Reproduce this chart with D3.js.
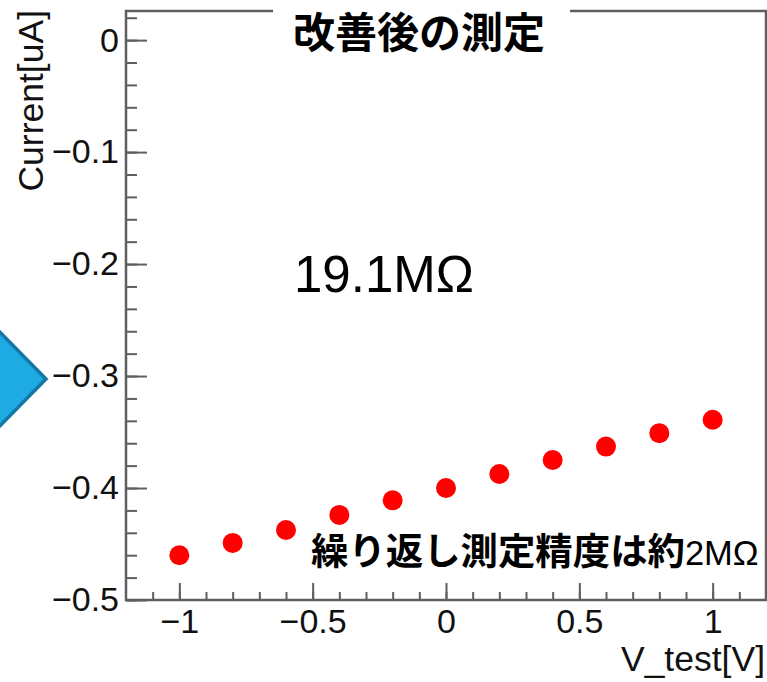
<!DOCTYPE html>
<html>
<head>
<meta charset="utf-8">
<script src="https://cdn.jsdelivr.net/npm/d3@7"></script>
<style>
  body { margin: 0; background: #fff; }
  svg { display: block; }
</style>
</head>
<body>
<div id="chart"></div>
<script>
// measurement after the fix: current vs test voltage
var vTest   = [-1, -0.8, -0.6, -0.4, -0.2, 0, 0.2, 0.4, 0.6, 0.8, 1];
var current = [-0.460, -0.449, -0.4375, -0.424, -0.411, -0.400, -0.3875, -0.375, -0.363, -0.351, -0.339];

var xTicks = [-1, -0.5, 0, 0.5, 1];
var yTicks = [0, -0.1, -0.2, -0.3, -0.4, -0.5];

var title   = "改善後の測定";
var resText = "19.1MΩ";
var noteCJK = "繰り返し測定精度は約";
var noteLat = "2MΩ";
var xTitle  = "V_test[V]";
var yTitle  = "Current[uA]";

var width = 767, height = 682;
// plot frame (window.top is read-only, so no "top" here)
var padL = 126, padR = 766, padT = 11, padB = 600;
var axisColor = "#5f5f5f";
var latin = "'Liberation Sans', Arial, sans-serif";
var cjk = "'Noto Sans CJK JP', sans-serif";

var svg = d3.select("div#chart")
    .append("svg")
    .attr("width", width)
    .attr("height", height);

var x = d3.scaleLinear().domain([-1.2, 1.2]).range([padL, padR]);
var y = d3.scaleLinear().domain([-0.5, 0.026]).range([padB, padT]);

var fmt = (d) => (d < 0 ? "\u2212" : "") + Math.abs(d);

// frame
svg.append("rect")
    .attr("x", padL).attr("y", padT)
    .attr("width", padR - padL).attr("height", padB - padT)
    .attr("fill", "none")
    .attr("stroke", axisColor)
    .attr("stroke-width", 2.5);

// minor ticks
var xMinor = d3.range(-11, 12).map((d) => d / 10);
var yMinor = d3.range(-25, 2).map((d) => d / 50);

svg.append("g")
    .attr("transform", `translate(0,${padB})`)
    .call(d3.axisBottom(x).tickValues(xMinor).tickSize(-8).tickFormat(""))
    .call((g) => g.select(".domain").remove());

svg.append("g")
    .attr("transform", `translate(${padL},0)`)
    .call(d3.axisLeft(y).tickValues(yMinor).tickSize(-11).tickFormat(""))
    .call((g) => g.select(".domain").remove());

// major ticks and labels
var gx = svg.append("g")
    .attr("transform", `translate(0,${padB})`)
    .call(d3.axisBottom(x).tickValues(xTicks).tickSize(-17).tickPadding(9).tickFormat(fmt));
gx.select(".domain").remove();

var gy = svg.append("g")
    .attr("transform", `translate(${padL},0)`)
    .call(d3.axisLeft(y).tickValues(yTicks).tickSize(-21).tickPadding(7).tickFormat(fmt));
gy.select(".domain").remove();

svg.selectAll(".tick line")
    .attr("stroke", axisColor)
    .attr("stroke-width", 2);
svg.selectAll(".tick text")
    .attr("font-family", latin)
    .attr("font-size", 34)
    .attr("fill", "#111");

// axis titles
svg.append("text")
    .attr("x", 765).attr("y", 671)
    .attr("text-anchor", "end")
    .attr("font-family", latin)
    .attr("font-size", 35.5)
    .attr("fill", "#111")
    .text(xTitle);

svg.append("text")
    .attr("transform", "translate(43,10) rotate(-90)")
    .attr("text-anchor", "end")
    .attr("font-family", latin)
    .attr("font-size", 35.5)
    .attr("fill", "#111")
    .text(yTitle);

// title box
svg.append("rect")
    .attr("x", 273).attr("y", 0)
    .attr("width", 297).attr("height", 56)
    .attr("fill", "#fff");

svg.append("text")
    .attr("x", 293).attr("y", 48)
    .attr("font-family", cjk)
    .attr("font-weight", "bold")
    .attr("font-size", 42)
    .attr("fill", "#000")
    .text(title);

// blue arrow on the left
svg.append("path")
    .attr("d", "M-20,312 L46,379 L-20,446 Z")
    .attr("fill", "#1eaae2")
    .attr("stroke", "#1478a6")
    .attr("stroke-width", 3.5);

// data points
svg.selectAll("circle.pt")
    .data(vTest)
    .enter()
    .append("circle")
    .attr("class", "pt")
    .attr("cx", (d) => x(d))
    .attr("cy", (d, i) => y(current[i]))
    .attr("r", 10)
    .attr("fill", "#ff0000");

// annotations
svg.append("text")
    .attr("x", 294).attr("y", 292)
    .attr("font-family", latin)
    .attr("font-size", 51)
    .attr("fill", "#000")
    .text(resText);

var note = svg.append("text")
    .attr("x", 311).attr("y", 565)
    .attr("fill", "#000");
note.append("tspan")
    .attr("font-family", cjk)
    .attr("font-weight", "bold")
    .attr("font-size", 37.4)
    .text(noteCJK);
note.append("tspan")
    .attr("font-family", latin)
    .attr("font-size", 34.5)
    .text(noteLat);
</script>
</body>
</html>
